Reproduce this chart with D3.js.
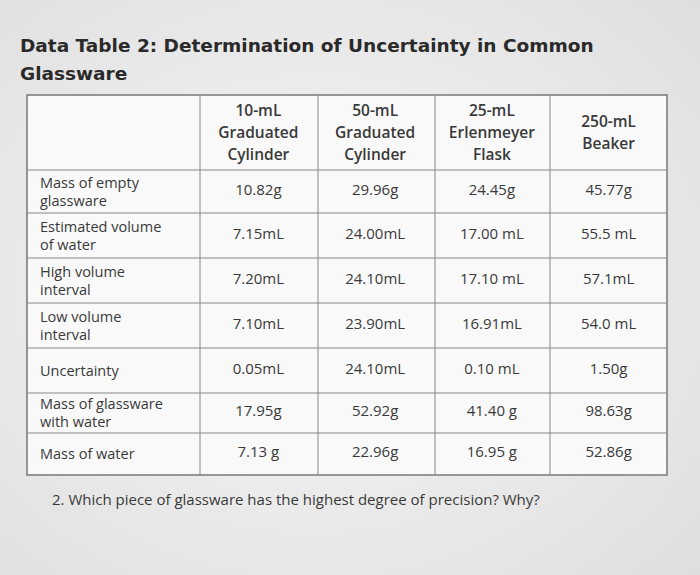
<!DOCTYPE html>
<html><head><meta charset="utf-8">
<script src="https://cdn.jsdelivr.net/npm/d3@7"></script>
<style>body{margin:0;background:#ececec;}</style>
</head><body><div id="c"></div>
<script>
const titleLines = ["Data Table 2: Determination of Uncertainty in Common", "Glassware"];
const columns = [["10-mL","Graduated","Cylinder"],["50-mL","Graduated","Cylinder"],["25-mL","Erlenmeyer","Flask"],["250-mL","Beaker"]];
const rowLabels = [["Mass of empty","glassware"],["Estimated volume","of water"],["High volume","interval"],["Low volume","interval"],["Uncertainty"],["Mass of glassware","with water"],["Mass of water"]];
const values = [
 ["10.82g","29.96g","24.45g","45.77g"],
 ["7.15mL","24.00mL","17.00 mL","55.5 mL"],
 ["7.20mL","24.10mL","17.10 mL","57.1mL"],
 ["7.10mL","23.90mL","16.91mL","54.0 mL"],
 ["0.05mL","24.10mL","0.10 mL","1.50g"],
 ["17.95g","52.92g","41.40 g","98.63g"],
 ["7.13 g","22.96g","16.95 g","52.86g"]
];
const question = "2. Which piece of glassware has the highest degree of precision? Why?";

const W=700,H=575;
const svg=d3.select("#c").append("svg").attr("width",W).attr("height",H);
const g0=svg.append("defs").append("radialGradient").attr("id","bg").attr("cx","45%").attr("cy","50%").attr("r","75%");
g0.append("stop").attr("offset","0%").attr("stop-color","#f7f7f7");
g0.append("stop").attr("offset","100%").attr("stop-color","#dedede");
svg.append("rect").attr("width",W).attr("height",H).attr("fill","url(#bg)");
const font="'Open Sans', Lato, sans-serif";
svg.selectAll("text.t").data(titleLines).join("text").attr("x",20).attr("y",(d,i)=>52+i*28)
 .attr("font-family","'DejaVu Sans', sans-serif").attr("font-weight","bold").attr("font-size",18.5).attr("fill","#2a2a2a").text(d=>d);

const colEdges=[27,200,318,435,550,667];
const rowEdges=[95,170,213,258,303,348,393,433,475];
const ink="#3a3a3a";
const g=svg.append("g");
g.append("rect").attr("x",27).attr("y",95).attr("width",640).attr("height",380).attr("fill","#f9f9f9").attr("stroke","#777").attr("stroke-width",1.5);
colEdges.slice(1,-1).forEach(x=>g.append("line").attr("x1",x).attr("x2",x).attr("y1",95).attr("y2",475).attr("stroke","#888"));
rowEdges.slice(1,-1).forEach(y=>g.append("line").attr("x1",27).attr("x2",667).attr("y1",y).attr("y2",y).attr("stroke","#888"));

const x=d3.scaleBand().domain(d3.range(4)).range([200,667]);
const y=d3.scaleOrdinal().domain(d3.range(7)).range(rowEdges.slice(1,8).map((e,i)=>(e+rowEdges[i+2])/2));

columns.forEach((c,i)=>{
  const cy=132, lh=22;
  c.forEach((l,j)=>g.append("text").attr("x",x(i)+x.bandwidth()/2).attr("y",cy+(j-(c.length-1)/2)*lh+6)
   .attr("text-anchor","middle").attr("font-family",font).attr("font-weight",600).attr("font-size",15.5).attr("fill",ink).text(l));
});
rowLabels.forEach((r,i)=>{
  r.forEach((l,j)=>g.append("text").attr("x",40).attr("y",y(i)+(j-(r.length-1)/2)*18+5)
   .attr("font-family",font).attr("font-size",14.5).attr("fill",ink).text(l));
});
values.forEach((row,i)=>row.forEach((v,k)=>g.append("text").attr("x",x(k)+x.bandwidth()/2).attr("y",y(i)+3)
  .attr("text-anchor","middle").attr("font-family",font).attr("font-size",15).attr("fill",ink).text(v)));
svg.append("text").attr("x",52).attr("y",505).attr("font-family",font).attr("font-size",15).attr("fill",ink).text(question);
</script></body></html>
